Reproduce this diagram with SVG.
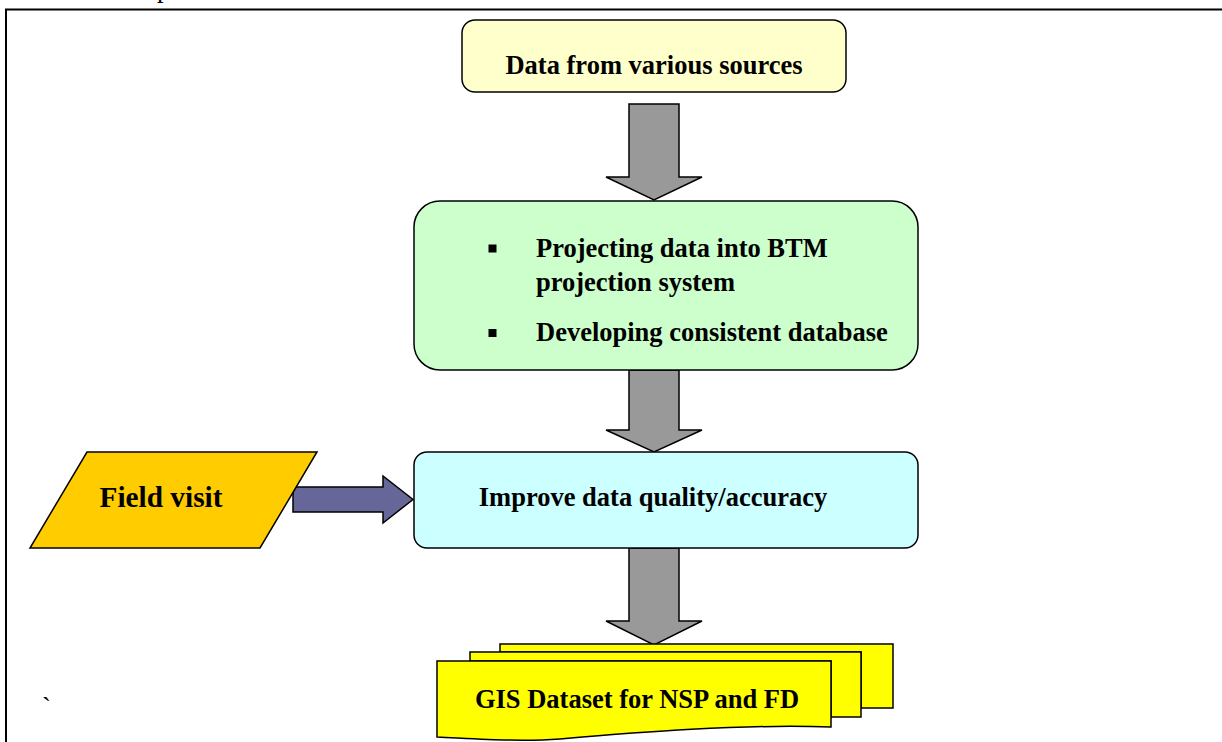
<svg xmlns="http://www.w3.org/2000/svg" width="1222" height="742" viewBox="0 0 1222 742">
  <style>
    .lbl { font-family: "Liberation Serif", "Times New Roman", Times, serif; font-weight: 700; font-size: 26.5px; fill: #000; }
    .thin { font-family: "Liberation Serif", "Times New Roman", Times, serif; font-weight: 400; font-size: 26.5px; fill: #000; }
    .box { stroke: #000; stroke-width: 1.5; }
    .down { fill: #999999; stroke: #000; stroke-width: 1.5; stroke-linejoin: miter; }
  </style>
  <rect x="0" y="0" width="1222" height="742" fill="#ffffff"/>

  <!-- page frame, open on the right and bottom -->
  <g id="frame">
    <path d="M 6 742 L 6 9.5 L 1222 9.5" fill="none" stroke="#000" stroke-width="2"/>
    <text class="thin" x="157" y="-3">p</text>
    <text class="thin" x="42" y="716">`</text>
  </g>

  <!-- connectors -->
  <g id="connectors">
    <path class="down" d="M 629 104 L 679 104 L 679 177 L 702 177 L 654 200 L 606 177 L 629 177 Z"/>
    <path class="down" d="M 629 370 L 679 370 L 679 430 L 702 430 L 654 452 L 606 430 L 629 430 Z"/>
    <path class="down" d="M 629 548 L 679 548 L 679 621 L 702 621 L 654 645 L 606 621 L 629 621 Z"/>
    <path fill="#666699" stroke="#000" stroke-width="1.5" d="M 293 487 L 383 487 L 383 476 L 413 499.5 L 383 523 L 383 512 L 293 512 Z"/>
  </g>

  <g id="node-sources">
    <rect class="box" x="462" y="20" width="384" height="72" rx="13" fill="#FFFFCC"/>
    <text class="lbl" x="654" y="74" text-anchor="middle">Data from various sources</text>
  </g>

  <g id="node-projecting">
    <rect class="box" x="414" y="201" width="504" height="169" rx="26" fill="#CCFFCC"/>
    <rect x="488.5" y="244.5" width="8" height="8" fill="#000"/>
    <rect x="488.5" y="329" width="8" height="8" fill="#000"/>
    <text class="lbl" x="536" y="257">Projecting data into BTM</text>
    <text class="lbl" x="536" y="291">projection system</text>
    <text class="lbl" x="536" y="341">Developing consistent database</text>
  </g>

  <g id="node-improve">
    <rect class="box" x="414" y="452" width="504" height="96" rx="13" fill="#CCFFFF"/>
    <text class="lbl" x="653" y="506" text-anchor="middle">Improve data quality/accuracy</text>
  </g>

  <g id="node-field">
    <polygon class="box" points="87,452 317,452 260,548 30,548" fill="#FFCC00"/>
    <text class="lbl" x="161" y="507" text-anchor="middle" style="font-size:29.3px">Field visit</text>
  </g>

  <g id="node-dataset">
    <path class="box" fill="#FFFF00" d="M 500 644 L 893 644 L 893 708 L 861 708 L 861 652 L 500 652 Z"/>
    <path class="box" fill="#FFFF00" d="M 470 652 L 861 652 L 861 717 L 831 717 L 831 661 L 470 661 Z"/>
    <path class="box" fill="#FFFF00" d="M 437 661 L 831 661 L 831 727 C 740 724, 640 732, 560 739 C 520 742, 480 739, 437 737 Z"/>
    <text class="lbl" x="637" y="708" text-anchor="middle">GIS Dataset for NSP and FD</text>
  </g>
</svg>
